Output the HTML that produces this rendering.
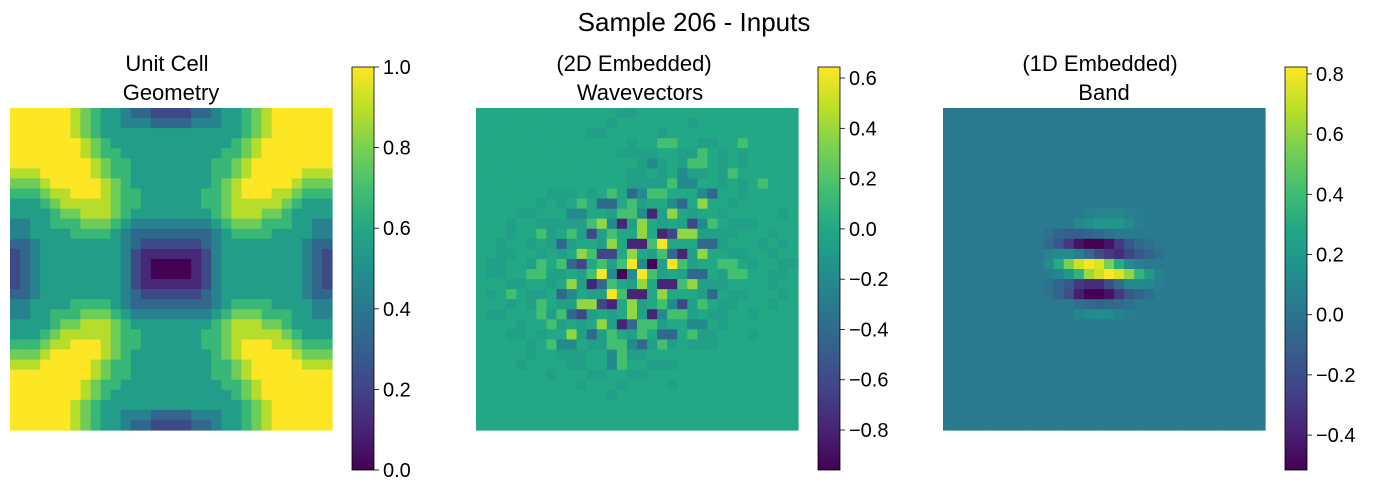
<!DOCTYPE html>
<html><head><meta charset="utf-8"><style>
html,body{margin:0;padding:0;background:#fff;}
svg{display:block;font-family:"Liberation Sans","DejaVu Sans",sans-serif;}
</style></head><body>
<svg id="fig" width="1378" height="495" viewBox="0 0 1378 495" xmlns="http://www.w3.org/2000/svg">
<defs>
<linearGradient id="vir" x1="0" y1="1" x2="0" y2="0">
<stop offset="0" stop-color="#440154"/><stop offset="0.1" stop-color="#482475"/><stop offset="0.2" stop-color="#414487"/><stop offset="0.3" stop-color="#355f8d"/><stop offset="0.4" stop-color="#2a788e"/><stop offset="0.5" stop-color="#21918c"/><stop offset="0.6" stop-color="#22a884"/><stop offset="0.7" stop-color="#44bf70"/><stop offset="0.8" stop-color="#7ad151"/><stop offset="0.9" stop-color="#bddf26"/><stop offset="1" stop-color="#fde725"/>
</linearGradient>
</defs>
<text x="694" y="31" font-size="26" text-anchor="middle">Sample 206 - Inputs</text>
<g><text x="167" y="71" font-size="22" text-anchor="middle">Unit Cell</text><text x="171" y="100" font-size="22" text-anchor="middle">Geometry</text></g>
<g><text x="634" y="71" font-size="22" text-anchor="middle">(2D Embedded)</text><text x="640" y="100" font-size="22" text-anchor="middle">Wavevectors</text></g>
<g><text x="1100" y="71" font-size="22" text-anchor="middle">(1D Embedded)</text><text x="1104" y="100" font-size="22" text-anchor="middle">Band</text></g>
</svg>
<script>
const geometryRows = [
"99999987655433222233455678999999","99999987655444333344455678999999","99999987655555555555555678999999","99999998765555555555556789999999",
"99999998766555555555566789999999","99999999876655555555667899999999","88899999876655555555667899999888","77789999987655555555678999998777",
"66678899987665555556678999887666","55567888887665555556678888876555","55556778887655555555678887765555","44556667776544444444567776665544",
"44555566665433333333456666555544","33455555555432222223455555555433","23455555555421111112455555555432","23455555555421000012455555555432",
"23455555555421000012455555555432","23455555555421111112455555555432","33455555555432222223455555555433","44555566665433333333456666555544",
"44556667776544444444567776665544","55556778887655555555678887765555","55567888887665555556678888876555","66678899987665555556678999887666",
"77789999987655555555678999998777","88899999876655555555667899999888","99999999876655555555667899999999","99999998766555555555566789999999",
"99999998765555555555556789999999","99999987655555555555555678999999","99999987655444333344455678999999","99999987655433222233455678999999"];
const wavevectorRows = [
"66666666666666556666666666666666","66666666666665666666656666666666","66666666666556666656666666666666","66666666666666656677665566766666",
"66666666666666555566557656566666","66666666666666665456577656566666","66666666666666655656455657666666","66666666666666655557446656567666",
"66666665556567634776664366566666","66666656567633675664368665666666","66665566644665774158656656666656","66656655555784158656524765556666",
"66656675675257668612885555666566","66566565356658611796663356665656","66556656568722686573158665566566","65566576732675794059756677656655",
"65566775565794049756533657766556","66655665685137658611785556666566","65676556346559711686665365566656","66656576558821685674257655666566",
"65566675732565685147756556656666","66665667565685137756644656666666","66655656685357657633675566656666","66666567446557743575655566666666",
"66666566555664755666666666666666","66665666655664766555666666666666","66666665666556655666666666666666","66666666665666566665666666666666",
"66666666666665666666666666666666","66666666666666666666666666666666","66666666666666666666666666666666","66666666666666666666666666666666"];
const waveLevels = [-0.95, -0.8, -0.62, -0.42, -0.2, -0.06, 0.0, 0.16, 0.38, 0.63];
const bandBackground = 0.03;
const bandRowStart = 10, bandColStart = 8;
const bandRows = [
[.03,.03,.03,.03,.03,.03,.08,.1,.1,.1,.08,.05,.03,.03,.03,.03],
[.03,.03,.03,.03,.03,.1,.15,.18,.2,.18,.12,.05,.03,.03,.03,.03],
[.03,.03,-.02,-.08,-.12,-.12,-.08,-.05,0,.03,.03,.03,.03,.03,.03,.03],
[.03,.03,-.05,-.15,-.3,-.45,-.55,-.55,-.45,-.3,-.15,-.05,-.02,.03,.03,.03],
[.03,.03,.08,.12,.12,.05,-.05,-.2,-.3,-.35,-.25,-.15,-.08,-.03,.03,.03],
[.03,.03,.12,.3,.55,.72,.8,.75,.55,.3,.12,.05,.03,.03,.03,.03],
[.03,.03,.05,.1,.2,.35,.62,.72,.82,.75,.6,.35,.2,.08,.03,.03],
[.03,.03,0,-.08,-.15,-.3,-.35,-.35,-.2,-.05,.1,.12,.1,.05,.03,.03],
[.03,.03,0,-.08,-.2,-.4,-.55,-.55,-.45,-.3,-.15,-.08,-.03,.03,.03,.03],
[.03,.03,.03,.03,.03,-.02,-.05,-.08,-.06,-.05,-.02,.03,.03,.03,.03,.03],
[.03,.03,.03,.03,.03,.1,.12,.15,.12,.08,.05,.03,.03,.03,.03,.03]];
const geomRange = [0, 1];
const waveRange = [-0.959, 0.644];
const bandRange = [-0.516, 0.823];
const geomTicks = [0, 0.2, 0.4, 0.6, 0.8, 1.0];
const waveTicks = [-0.8, -0.6, -0.4, -0.2, 0, 0.2, 0.4, 0.6];
const bandTicks = [-0.4, -0.2, 0, 0.2, 0.4, 0.6, 0.8];

const VIR = ["#440154","#482475","#414487","#355f8d","#2a788e","#21918c","#22a884","#44bf70","#7ad151","#bddf26","#fde725"].map(h=>[parseInt(h.slice(1,3),16),parseInt(h.slice(3,5),16),parseInt(h.slice(5,7),16)]);
function viridis(t){t=Math.max(0,Math.min(1,t));const f=t*10,i=Math.min(9,Math.floor(f)),u=f-i;const a=VIR[i],b=VIR[i+1];return "rgb("+a.map((v,k)=>Math.round(v+(b[k]-v)*u)).join(",")+")";}
const NS="http://www.w3.org/2000/svg", svg=document.getElementById('fig');
function mk(tag,attrs,parent){const e=document.createElementNS(NS,tag);for(const k in attrs)e.setAttribute(k,attrs[k]);(parent||svg).appendChild(e);return e;}
const Y0=108, SIZE=322, N=32, CELL=SIZE/N;
function drawHeat(name,x0,grid,range){
  const g=mk('g',{});
  
  
  for(let r=0;r<N;r++)for(let c=0;c<N;c++){
    const v=grid[r][c];
    const rect=mk('rect',{x:(x0+c*CELL).toFixed(2),y:(Y0+r*CELL).toFixed(2),width:(CELL+0.6).toFixed(2),height:(CELL+0.6).toFixed(2),fill:viridis((v-range[0])/(range[1]-range[0]))},g);
    
    
  }
}
function drawColorbar(name,x0,range,ticks){
  const g=mk('g',{});
  
  
  const top=67,bot=470;
  mk('rect',{x:x0,y:top,width:22,height:bot-top,fill:"url(#vir)",stroke:"#000","stroke-width":0.8},g);
  ticks.forEach(t=>{
    const y=bot-(t-range[0])/(range[1]-range[0])*(bot-top);
    mk('line',{x1:x0+22,x2:x0+27,y1:y,y2:y,stroke:"#000","stroke-width":0.8},g);
    const tx=mk('text',{x:x0+31,y:y+7,"font-size":20},g);
    
    
    tx.textContent=(t<0?"\u2212":"")+Math.abs(t).toFixed(1);
  });
}
const geomGrid=geometryRows.map(s=>s.split('').map(d=>+d/9));
const waveGrid=wavevectorRows.map(s=>s.split('').map(d=>waveLevels[+d]));
const bandGrid=[];
for(let r=0;r<N;r++){const row=[];for(let c=0;c<N;c++){const br=r-bandRowStart,bc=c-bandColStart;row.push(br>=0&&br<bandRows.length&&bc>=0&&bc<bandRows[br].length?bandRows[br][bc]:bandBackground);}bandGrid.push(row);}
drawHeat('geometry-heatmap',10,geomGrid,geomRange);
drawHeat('wavevectors-heatmap',476,waveGrid,waveRange);
drawHeat('band-heatmap',943,bandGrid,bandRange);
drawColorbar('geometry-colorbar',352,geomRange,geomTicks);
drawColorbar('wavevectors-colorbar',818,waveRange,waveTicks);
drawColorbar('band-colorbar',1285,bandRange,bandTicks);
</script>
</body></html>
